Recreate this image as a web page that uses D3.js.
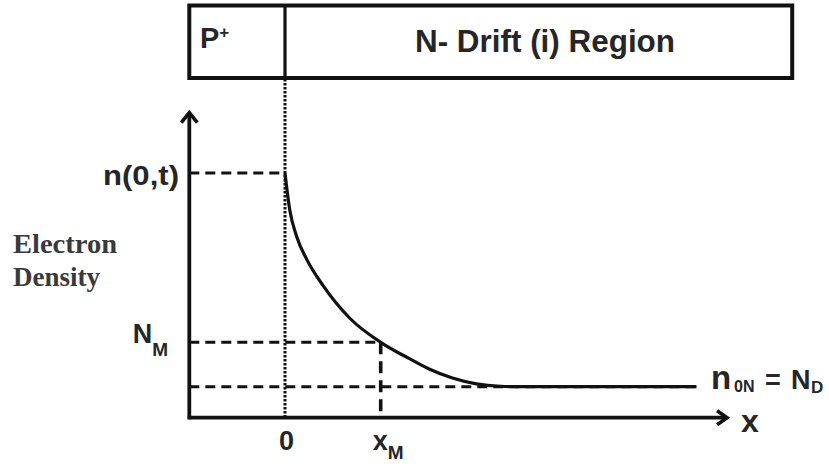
<!DOCTYPE html>
<html><head><meta charset="utf-8">
<script src="https://cdn.jsdelivr.net/npm/d3@7"></script>
<style>html,body{margin:0;padding:0;background:#fff;} svg{display:block}</style>
</head><body>
<svg id="chart" width="829" height="464"></svg>
<script>
// ---------- data ----------
const regionLabels = ["P", "N- Drift (i) Region"];
const regionEdges = [-1, 0, 5.3];
const curveX = [0, 0.05, 0.12, 0.23, 0.40, 0.68, 1.00, 1.29, 1.50, 1.75, 2.00, 2.25, 2.50, 3.0, 4.3];
const curveY = [7.89, 6.70, 5.86, 5.09, 4.25, 3.20, 2.43, 1.92, 1.58, 1.28, 1.09, 1.015, 1.0, 1.0, 1.0];
const xTickValues = [0, 1];
const xTickMain = ["0", "x"];
const xTickSub = ["", "M"];
const yLevelValues = [7.89, 2.43, 1.0];
const yLevelMain = ["n(0,t)", "N", ""];
const yLevelSub = ["", "M", ""];
const rightLabelParts = ["n", "0N", "=", "N", "D"];
const yTitle = ["Electron", "Density"];
const xTitle = "x";

// ---------- layout ----------
const svg = d3.select("#chart");
const x = d3.scaleLinear().domain([0, 1]).range([285, 380.7]);
const y = d3.scaleLinear().domain([0, 1]).range([417.7, 386.7]);
const xMin = -1, xTip = 4.63, yTip = 9.87, dashEnd = 4.3;
const ink = "#111";
const textCol = "#262626";
const sans = "'Liberation Sans', Arial, sans-serif";

// region box
const boxTop = 5.5, boxBottom = 78;
svg.append("rect")
  .attr("x", x(regionEdges[0])).attr("y", boxTop)
  .attr("width", x(regionEdges[2]) - x(regionEdges[0]))
  .attr("height", boxBottom - boxTop)
  .attr("fill", "none").attr("stroke", ink).attr("stroke-width", 4);
svg.append("line")
  .attr("x1", x(regionEdges[1])).attr("x2", x(regionEdges[1]))
  .attr("y1", boxTop).attr("y2", boxBottom)
  .attr("stroke", ink).attr("stroke-width", 3.2);

const pText = svg.append("text").attr("x", 200).attr("y", 48)
  .attr("font-family", sans).attr("font-weight", "bold").attr("font-size", 29).attr("fill", textCol);
pText.append("tspan").text(regionLabels[0]);
pText.append("tspan").attr("font-size", 17).attr("dy", -10).text("+");

svg.append("text").attr("x", 545).attr("y", 52).attr("text-anchor", "middle")
  .attr("font-family", sans).attr("font-weight", "bold").attr("font-size", 31)
  .attr("fill", textCol).attr("textLength", 260).attr("lengthAdjust", "spacingAndGlyphs")
  .text(regionLabels[1]);

// dotted junction line
svg.append("line")
  .attr("x1", x(0)).attr("x2", x(0)).attr("y1", boxBottom + 1).attr("y2", y(0))
  .attr("stroke", ink).attr("stroke-width", 3).attr("stroke-dasharray", "2.5,1.5");

// dashed guide lines
const dash = (x1, y1, x2, y2, w, pat) => svg.append("line")
  .attr("x1", x1).attr("y1", y1).attr("x2", x2).attr("y2", y2)
  .attr("stroke", ink).attr("stroke-width", w).attr("stroke-dasharray", pat);
dash(x(xMin), y(yLevelValues[0]), x(0), y(yLevelValues[0]), 3, "10,6");
dash(x(xMin), y(yLevelValues[1]), x(xTickValues[1]), y(yLevelValues[1]), 3, "10,6");
dash(x(xTickValues[1]), y(yLevelValues[1]), x(xTickValues[1]), y(0), 3.6, "12,7");
dash(x(xMin), y(yLevelValues[2]), x(dashEnd), y(yLevelValues[2]), 3, "10,6");

// curve
const pts = curveX.map((v, i) => [v, curveY[i]]);
svg.append("path").datum(pts)
  .attr("d", d3.line().x(d => x(d[0])).y(d => y(d[1])).curve(d3.curveMonotoneX))
  .attr("fill", "none").attr("stroke", ink).attr("stroke-width", 3.2);

// axes with arrows
svg.append("line").attr("x1", x(xMin)).attr("x2", x(xMin))
  .attr("y1", y(0) + 1.5).attr("y2", y(yTip) + 2)
  .attr("stroke", ink).attr("stroke-width", 3.8);
svg.append("path")
  .attr("d", `M${x(xMin) - 8},${y(yTip) + 11} L${x(xMin)},${y(yTip) + 1} L${x(xMin) + 8},${y(yTip) + 11}`)
  .attr("fill", "none").attr("stroke", ink).attr("stroke-width", 3.6);
svg.append("line").attr("x1", x(xMin) - 1.5).attr("x2", x(xTip) - 2)
  .attr("y1", y(0)).attr("y2", y(0))
  .attr("stroke", ink).attr("stroke-width", 3.8);
svg.append("path")
  .attr("d", `M${x(xTip) - 11},${y(0) - 7} L${x(xTip) - 1},${y(0)} L${x(xTip) - 11},${y(0) + 7}`)
  .attr("fill", "none").attr("stroke", ink).attr("stroke-width", 3.6);

// x tick labels via d3 axis
const gx = svg.append("g").attr("transform", `translate(0,${y(0)})`)
  .call(d3.axisBottom(x).tickValues(xTickValues).tickSize(0).tickFormat(""));
gx.select(".domain").remove();
gx.selectAll(".tick text").each(function (d, i) {
  const t = d3.select(this)
    .attr("font-family", sans).attr("font-weight", "bold").attr("font-size", 27)
    .attr("fill", textCol).attr("y", 32).attr("dy", null)
    .attr("text-anchor", xTickSub[i] ? "start" : "middle")
    .attr("x", xTickSub[i] ? -8.5 : 1);
  t.append("tspan").text(xTickMain[i]);
  if (xTickSub[i]) t.append("tspan").attr("font-size", 19).attr("dy", 9).text(xTickSub[i]);
});

// y level labels
svg.append("text").attr("x", 179).attr("y", y(yLevelValues[0]) + 12).attr("text-anchor", "end")
  .attr("font-family", sans).attr("font-weight", "bold").attr("font-size", 28).attr("fill", textCol)
  .attr("textLength", 76).attr("lengthAdjust", "spacingAndGlyphs")
  .text(yLevelMain[0]);
const nm = svg.append("text").attr("x", 168).attr("y", y(yLevelValues[1]) + 1).attr("text-anchor", "end")
  .attr("font-family", sans).attr("font-weight", "bold").attr("font-size", 27).attr("fill", textCol);
nm.append("tspan").text(yLevelMain[1]);
nm.append("tspan").attr("font-size", 19).attr("dy", 13).text(yLevelSub[1]);

// right label n0N = ND
const rl = svg.append("text").attr("y", y(yLevelValues[2]) + 2.5)
  .attr("font-family", sans).attr("font-weight", "bold").attr("fill", textCol);
rl.append("tspan").attr("x", 711).attr("font-size", 33).text(rightLabelParts[0]);
rl.append("tspan").attr("x", 734).attr("font-size", 16).attr("dy", 3).text(rightLabelParts[1]);
rl.append("tspan").attr("x", 765).attr("font-size", 27).attr("dy", -3).text(rightLabelParts[2]);
rl.append("tspan").attr("x", 791).attr("font-size", 27).text(rightLabelParts[3]);
rl.append("tspan").attr("x", 811).attr("font-size", 17).attr("dy", 4).text(rightLabelParts[4]);

// axis titles
svg.append("text").attr("x", 741).attr("y", 432)
  .attr("font-family", sans).attr("font-weight", "bold").attr("font-size", 32).attr("fill", textCol)
  .text(xTitle);
const serif = "'Liberation Serif', 'Times New Roman', serif";
svg.append("text").attr("x", 13).attr("y", 253)
  .attr("font-family", serif).attr("font-weight", "bold").attr("font-size", 28).attr("fill", "#3a3a3a")
  .attr("textLength", 104).attr("lengthAdjust", "spacingAndGlyphs").text(yTitle[0]);
svg.append("text").attr("x", 13).attr("y", 286)
  .attr("font-family", serif).attr("font-weight", "bold").attr("font-size", 28).attr("fill", "#3a3a3a")
  .attr("textLength", 87).attr("lengthAdjust", "spacingAndGlyphs").text(yTitle[1]);
</script>
</body></html>
